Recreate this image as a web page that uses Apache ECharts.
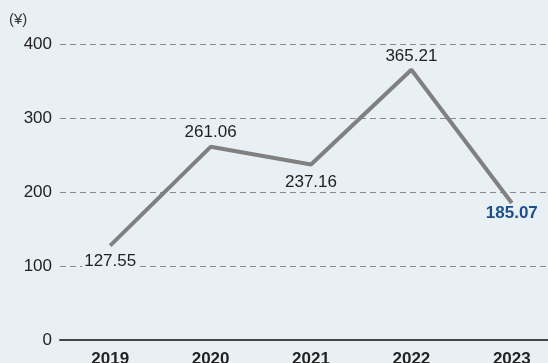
<!DOCTYPE html>
<html>
<head>
<meta charset="utf-8">
<script src="https://cdn.jsdelivr.net/npm/echarts@6/dist/echarts.min.js"></script>
<style>
html,body{margin:0;padding:0;background:#e8f0f4;}
#c{width:548px;height:363px;}
</style>
</head>
<body>
<div id="c"></div>
<script>
var years = ['2019', '2020', '2021', '2022', '2023'];
var values = [127.55, 261.06, 237.16, 365.21, 185.07];
var labelPos = ['bottom', 'top', 'bottom', 'top', 'bottom'];
var labelDist = [7, 6, 9, 5, 2];
var unitLabel = '(¥)';
var yTicks = [0, 100, 200, 300, 400];

var BG = '#e8f0f4';
var chart = echarts.init(document.getElementById('c'), null, {renderer: 'canvas'});
var data = values.map(function (v, i) {
  var last = i === values.length - 1;
  return {
    value: v,
    label: {
      position: labelPos[i],
      distance: labelDist[i],
      color: last ? '#1b4f8c' : '#222',
      fontWeight: last ? 'bold' : 'normal'
    }
  };
});
chart.setOption({
  backgroundColor: BG,
  animation: false,
  grid: {left: 60, width: 502, top: 44, height: 296, containLabel: false, outerBoundsMode: 'none'},
  graphic: [{
    type: 'text', left: 9, top: 12,
    style: {text: unitLabel, fontSize: 15, fill: '#333', fontFamily: 'Liberation Sans'}
  }],
  xAxis: {
    type: 'category',
    data: years,
    boundaryGap: true,
    axisLine: {lineStyle: {color: '#444', width: 2}},
    axisTick: {show: false},
    axisLabel: {fontSize: 17, fontWeight: 'bold', color: '#222', margin: 11, fontFamily: 'Liberation Sans'}
  },
  yAxis: {
    type: 'value',
    min: yTicks[0],
    max: yTicks[yTicks.length - 1],
    interval: 100,
    axisLine: {show: false},
    axisTick: {show: false},
    axisLabel: {fontSize: 17, color: '#222', margin: 8, fontFamily: 'Liberation Sans'},
    splitLine: {
      show: true,
      lineStyle: {color: '#8a8a8a', type: [6, 4], width: 1}
    }
  },
  series: [{
    type: 'line',
    data: data,
    showSymbol: true,
    symbol: 'circle',
    symbolSize: 0.1,
    itemStyle: {color: 'rgba(128,128,128,0)'},
    lineStyle: {color: '#808080', width: 4},
    label: {
      show: true,
      fontSize: 17,
      fontFamily: 'Liberation Sans',
      backgroundColor: BG,
      padding: [0, 2],
      formatter: function (p) { return p.value.toFixed(2); }
    },
    z: 3
  }]
});
</script>
</body>
</html>
